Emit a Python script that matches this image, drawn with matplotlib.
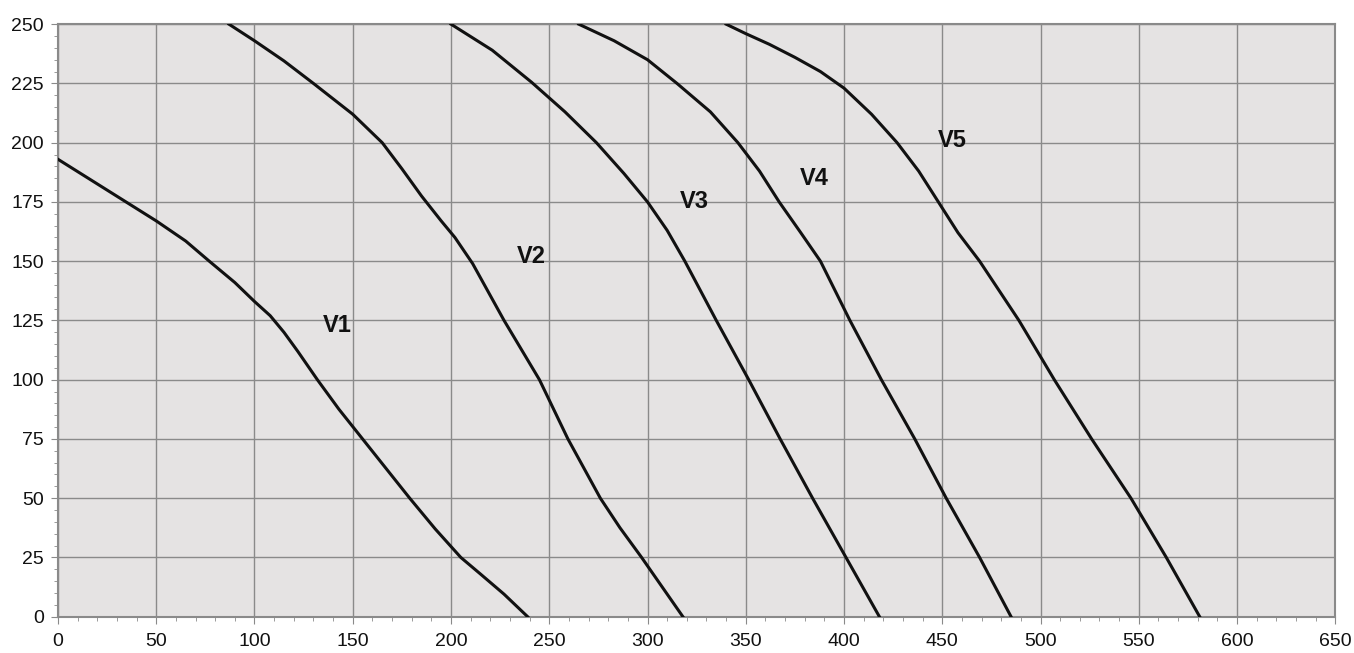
import matplotlib
matplotlib.use("Agg")
import matplotlib.pyplot as plt
from matplotlib.ticker import MultipleLocator

plt.rcParams['font.family'] = ['Liberation Sans', 'DejaVu Sans']

# Curve data (flow vs pressure)
v1_x = [0, 25, 50, 65, 77, 90, 100, 108, 115, 122, 132, 143, 155, 167, 179, 192, 205, 215, 227, 239]
v1_y = [193, 180, 167, 158.5, 150, 141, 133, 127, 120, 112, 100, 87.5, 75, 62.5, 50, 37, 25, 18, 9.5, 0]

v2_x = [87, 100, 115, 130, 150, 165, 175, 185, 195, 202, 211, 219, 227, 236, 245, 259.5, 276, 286, 297, 307.5, 318]
v2_y = [250, 243, 234.5, 225, 212, 200, 189, 177.5, 167, 160, 149, 137, 125, 112.5, 100, 75, 50, 37.5, 25, 12.5, 0]

v3_x = [200, 221, 241, 258, 274, 288, 300, 310, 319, 335, 351.5, 367.5, 384, 401, 418]
v3_y = [250, 239, 225.5, 213, 200, 187, 175, 163, 150, 125, 100, 75, 50, 25, 0]

v4_x = [265, 283, 300, 315, 332, 346, 357, 367, 378, 388, 403, 419, 436, 452, 469, 485]
v4_y = [250, 243, 235, 225, 213, 200, 188, 175, 162, 150, 125, 100, 75, 50, 25, 0]

v5_x = [340, 350, 362, 375, 388, 400, 414, 427, 438, 448, 458, 469, 489, 507, 526, 546, 564, 581]
v5_y = [250, 246, 241.5, 236, 230, 223, 212, 200, 188, 175, 162, 150, 125, 100, 75, 50, 25, 0]

labels = ['V1', 'V2', 'V3', 'V4', 'V5']
label_x = [142, 241, 324, 385, 455]
label_y = [123, 152, 175, 185, 201]

x_ticks = list(range(0, 651, 50))
y_ticks = list(range(0, 251, 25))

fig = plt.figure(figsize=(13.54, 6.53), dpi=100)
ax = fig.add_axes([0.0428, 0.0556, 0.9434, 0.9074])
ax.set_facecolor('#e5e3e3')

for xs, ys in [(v1_x, v1_y), (v2_x, v2_y), (v3_x, v3_y), (v4_x, v4_y), (v5_x, v5_y)]:
    ax.plot(xs, ys, color='#111111', lw=2.2, solid_joinstyle='round', zorder=3)

for t, lx, ly in zip(labels, label_x, label_y):
    ax.text(lx, ly, t, fontsize=17, fontweight='bold', ha='center', va='center',
            color='#111111', zorder=4)

ax.set_xlim(0, 650)
ax.set_ylim(0, 250)
ax.set_xticks(x_ticks)
ax.set_yticks(y_ticks)
ax.xaxis.set_minor_locator(MultipleLocator(10))
ax.yaxis.set_minor_locator(MultipleLocator(5))
ax.grid(True, which='major', color='#8a8a8a', lw=1.0, zorder=1)
ax.set_axisbelow(True)
for s in ax.spines.values():
    s.set_color('#8a8a8a')
    s.set_linewidth(1.5)
ax.tick_params(which='major', length=5, color='#8a8a8a', labelsize=14,
               labelcolor='#111111', pad=5)
ax.tick_params(which='minor', length=3, color='#8a8a8a')
ax.tick_params(axis='x', pad=7)

fig.savefig('out.png', dpi=100, facecolor='white')
